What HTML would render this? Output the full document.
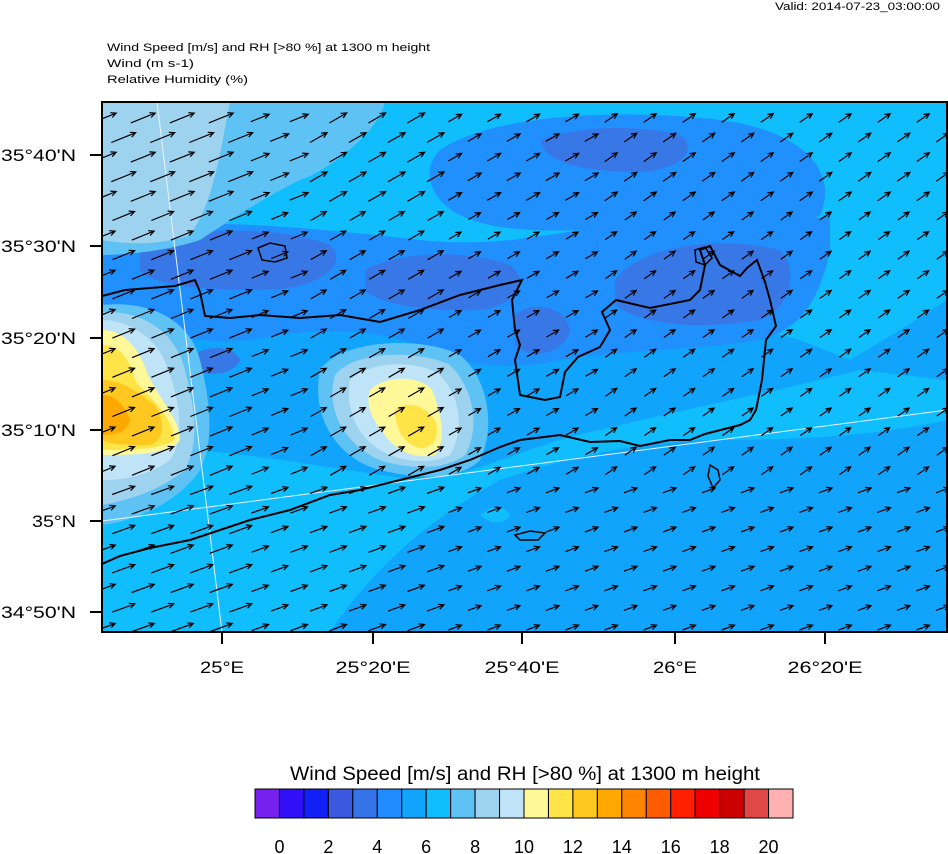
<!DOCTYPE html>
<html><head><meta charset="utf-8"><style>
html,body{margin:0;padding:0;background:#fff;width:948px;height:854px;overflow:hidden}
svg{display:block}
text{font-family:"Liberation Sans",sans-serif}
</style></head><body>
<svg id="s" width="948" height="854" xmlns="http://www.w3.org/2000/svg">
<defs><clipPath id="c"><rect x="102" y="102" width="845" height="530"/></clipPath></defs>
<text x="940" y="10" font-size="11" text-anchor="end" textLength="165" lengthAdjust="spacingAndGlyphs">Valid: 2014-07-23_03:00:00</text>
<text x="107" y="51" font-size="11" textLength="323" lengthAdjust="spacingAndGlyphs">Wind Speed [m/s] and RH [&gt;80 %] at 1300 m height</text>
<text x="107" y="67" font-size="11" textLength="87" lengthAdjust="spacingAndGlyphs">Wind   (m s-1)</text>
<text x="107" y="83" font-size="11" textLength="141" lengthAdjust="spacingAndGlyphs">Relative Humidity   (%)</text>
<g clip-path="url(#c)">
<rect x="102" y="102" width="845" height="530" fill="#10a4fc"/>
<path d="M102,102H947V300L900,330 850,360 800,340 760,330 700,330 600,335 520,320 470,300 400,280 300,265 200,250 102,240Z" fill="#10bdfd"/>
<path d="M102,230 C200,215 330,230 420,240 C520,250 560,225 620,230 C700,220 780,230 830,215 L830,250 C820,300 800,330 760,340 C700,350 620,350 560,360 C520,370 470,370 420,345 C360,325 300,330 250,340 C190,345 150,330 102,320Z" fill="#2090ff"/>
<path d="M440,150 C500,110 640,110 720,120 C800,130 840,170 820,215 C780,240 700,230 620,230 C560,230 500,235 460,215 C430,200 420,170 440,150Z" fill="#2090ff"/>
<path d="M140,250 C180,225 280,225 330,245 C350,265 320,290 260,290 C200,290 150,285 140,270Z" fill="#3878e6"/>
<path d="M365,270 C400,250 470,250 510,265 C530,280 520,305 480,310 C430,312 380,305 365,290Z" fill="#3878e6"/>
<path d="M615,280 C640,245 720,235 780,250 C800,270 790,310 760,320 C700,330 640,325 615,305Z" fill="#3878e6"/>
<path d="M515,315 C530,300 565,305 570,330 C565,355 530,360 515,345Z" fill="#3878e6"/>
<path d="M195,355 C205,345 235,345 240,360 C235,375 205,378 195,368Z" fill="#3878e6"/>
<path d="M540,140 C580,125 640,125 680,135 C700,150 680,170 640,172 C590,172 545,165 540,140Z" fill="#3878e6"/>
<path d="M102,450 C200,440 330,470 420,480 C480,475 540,440 600,430 C680,410 760,395 860,370 L947,380 V420 C860,440 760,440 700,440 C620,445 560,460 500,480 C430,520 380,560 330,632 H102Z" fill="#10bdfd"/>
<path d="M480,515 C490,505 505,505 510,515 C505,525 490,525 480,515Z" fill="#10bdfd"/>
<path d="M102,102H385C380,130 330,170 300,180 C260,200 230,220 200,240 C170,250 130,255 102,255Z" fill="#5ec2f4"/>
<path d="M102,102H230C220,150 215,200 190,235 C160,245 130,245 102,240Z" fill="#9ed3f0"/>
<path d="M102,305 C150,300 190,320 200,360 C210,400 215,440 200,470 C180,500 140,520 102,525Z" fill="#5ec2f4"/>
<path d="M102,312 C140,310 175,330 185,370 C195,410 200,440 185,470 C160,490 130,500 102,505Z" fill="#9ed3f0"/>
<path d="M102,320 C130,320 160,340 168,370 C180,400 185,440 170,460 C150,475 125,480 102,480Z" fill="#c0e4f7"/>
<path d="M102,330 C125,330 140,350 148,375 C160,400 180,420 180,440 C170,455 130,455 102,455Z" fill="#fff898"/>
<path d="M102,345 C120,345 130,360 135,380 C145,395 170,410 175,440 C160,450 125,450 102,450Z" fill="#ffe448"/>
<path d="M102,380 C125,380 140,395 155,405 C165,420 165,440 150,445 C130,445 110,445 102,440Z" fill="#ffc820"/>
<path d="M102,395 C115,395 125,405 130,420 C128,432 115,435 102,435Z" fill="#ffa800"/>
<path d="M320,370 C340,340 420,335 460,355 C490,380 495,430 480,460 C460,480 420,480 380,470 C340,460 310,420 320,370Z" fill="#5ec2f4"/>
<path d="M335,375 C355,350 420,350 450,365 C475,390 480,430 465,455 C445,470 410,470 380,460 C345,445 325,410 335,375Z" fill="#9ed3f0"/>
<path d="M350,380 C370,360 420,360 440,375 C460,395 465,430 450,455 C430,465 400,462 380,450 C355,435 345,405 350,380Z" fill="#c0e4f7"/>
<path d="M370,390 C385,375 420,375 432,390 C440,410 448,440 435,455 C415,460 395,450 385,435 C372,420 365,405 370,390Z" fill="#fff898"/>
<path d="M395,410 C405,400 425,405 435,420 C440,435 435,448 420,448 C405,445 395,430 395,410Z" fill="#ffe448"/>
<line x1="157" y1="102" x2="222" y2="632" stroke="#e8f4ff" stroke-width="1"/>
<line x1="102" y1="521" x2="947" y2="410" stroke="#e8f4ff" stroke-width="1"/>
<path d="M102,296 L125,290 150,288 175,286 195,280 200,292 205,316 230,318 260,315 300,318 340,315 380,322 420,310 460,295 500,285 522,280 512,300 515,330 520,345 515,360 520,395 545,400 560,397 565,372 578,357 600,347 610,330 602,312 616,300 650,308 690,300 700,290 705,265 700,250 710,246 720,265 740,276 747,268 757,260 765,282 770,300 776,326 766,340 762,380 756,410 750,420 740,425 705,434 690,440 670,440 640,446 620,441 590,442 560,435 520,440 500,447 470,460 440,470 400,480 360,490 330,495 290,510 250,520 220,530 190,540 150,548 120,556 102,564" fill="none" stroke="#000" stroke-width="2"/>
<path d="M258,248 L270,243 285,246 287,258 275,262 262,260Z" fill="none" stroke="#000" stroke-width="1.5"/>
<path d="M695,250 L705,247 712,258 705,265 696,262Z" fill="none" stroke="#000" stroke-width="1.5"/>
<path d="M710,465 L718,470 720,480 713,488 708,476Z" fill="none" stroke="#000" stroke-width="1.5"/>
<path d="M515,535 L530,531 545,533 538,540 520,540Z" fill="none" stroke="#000" stroke-width="1.5"/>
<g id="arr" stroke="#000" stroke-width="1.2" fill="none"></g>
</g>
<rect x="102" y="102" width="845" height="530" fill="none" stroke="#000" stroke-width="2"/>
<g id="ax" font-size="17"></g>
<text x="525" y="780" font-size="19" text-anchor="middle" textLength="470" lengthAdjust="spacingAndGlyphs">Wind Speed [m/s] and RH [&gt;80 %] at 1300 m height</text>
<g id="cb" stroke="#000" stroke-width="1"></g>
<g id="cbl" font-size="18" text-anchor="middle"></g>
</svg>
<script>
var NS="http://www.w3.org/2000/svg";
function el(p,t,a,txt){var e=document.createElementNS(NS,t);for(var k in a)e.setAttribute(k,a[k]);if(txt!=null)e.textContent=txt;document.getElementById(p).appendChild(e);return e;}
var d="";
for(var i=0;i<27;i++){var y=118+19.6*i;var off=(i%2)?19.5:0;
 for(var j=0;j<23;j++){var x=104+off+39*j; if(x>950)continue;
  var L=(x<250?24:(x<450?18:14))*(y<200?1.1:1);
  var ang=(x<300?22:(x<600?30:35))*Math.PI/180; if(y>480) ang=20*Math.PI/180;
  var dx=Math.cos(ang)*L,dy=-Math.sin(ang)*L;
  var x0=x-dx/2,y0=y-dy/2,x1=x+dx/2,y1=y+dy/2;
  var a=Math.atan2(dy,dx),h=6;
  d+="M"+x0.toFixed(1)+","+y0.toFixed(1)+"L"+x1.toFixed(1)+","+y1.toFixed(1);
  d+="M"+(x1-h*Math.cos(a-0.45)).toFixed(1)+","+(y1-h*Math.sin(a-0.45)).toFixed(1)+"L"+x1.toFixed(1)+","+y1.toFixed(1)+"L"+(x1-h*Math.cos(a+0.45)).toFixed(1)+","+(y1-h*Math.sin(a+0.45)).toFixed(1);
 }}
el("arr","path",{d:d});
var lat=[[155,"35°40'N",75],[246,"35°30'N",75],[338,"35°20'N",75],[430,"35°10'N",75],[521,"35°N",44],[612,"34°50'N",75]];
lat.forEach(function(l){el("ax","line",{x1:90,y1:l[0],x2:102,y2:l[0],stroke:"#000","stroke-width":2});el("ax","text",{x:76-l[2],y:l[0]+6,textLength:l[2],lengthAdjust:"spacingAndGlyphs"},l[1]);});
var lon=[[222,"25°E",44],[373,"25°20'E",75],[522,"25°40'E",75],[675,"26°E",44],[825,"26°20'E",75]];
lon.forEach(function(l){el("ax","line",{x1:l[0],y1:632,x2:l[0],y2:644,stroke:"#000","stroke-width":2});el("ax","text",{x:l[0]-l[2]/2,y:673,textLength:l[2],lengthAdjust:"spacingAndGlyphs"},l[1]);});
var cols=["#7620ee","#3110f8","#1120f6","#3a58e0","#3474e8","#208cff","#10a4fc","#10bdfd","#5ec2f4","#9ed3f0","#c0e4f7","#fff898","#ffe448","#ffc820","#ffa800","#ff8500","#ff5c00","#ff2000","#ee0000","#cc0000","#e04848","#ffb0b0"];
var w=538/22;
cols.forEach(function(c,k){el("cb","rect",{x:255+k*w,y:789,width:w,height:29,fill:c});});
for(var k=0;k<=10;k++){el("cbl","text",{x:255+w+k*2*w,y:853},String(k*2));}
</script>
</body></html>
